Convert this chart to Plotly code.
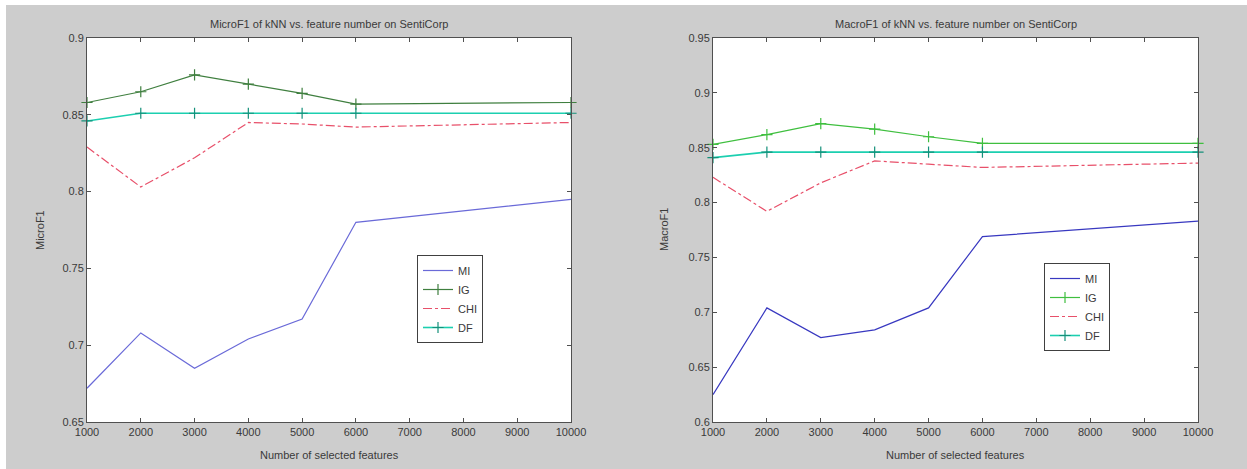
import plotly.graph_objects as go

# Feature counts at which each selection method was evaluated
features = [1000, 2000, 3000, 4000, 5000, 6000, 10000]

# MicroF1 of kNN on SentiCorp
micro_mi = [0.672, 0.708, 0.685, 0.704, 0.717, 0.780, 0.795]
micro_ig = [0.858, 0.865, 0.876, 0.870, 0.864, 0.857, 0.858]
micro_chi = [0.829, 0.803, 0.822, 0.845, 0.844, 0.842, 0.845]
micro_df = [0.846, 0.851, 0.851, 0.851, 0.851, 0.851, 0.851]

# MacroF1 of kNN on SentiCorp
macro_mi = [0.625, 0.704, 0.677, 0.684, 0.704, 0.769, 0.783]
macro_ig = [0.853, 0.862, 0.872, 0.867, 0.860, 0.854, 0.854]
macro_chi = [0.823, 0.792, 0.818, 0.838, 0.835, 0.832, 0.836]
macro_df = [0.841, 0.846, 0.846, 0.846, 0.846, 0.846, 0.846]

x_ticks = [1000, 2000, 3000, 4000, 5000, 6000, 7000, 8000, 9000, 10000]
x_tick_text = ["1000", "2000", "3000", "4000", "5000", "6000", "7000", "8000", "9000", "10000"]
micro_ticks = [0.65, 0.7, 0.75, 0.8, 0.85, 0.9]
micro_tick_text = ["0.65", "0.7", "0.75", "0.8", "0.85", "0.9"]
macro_ticks = [0.6, 0.65, 0.7, 0.75, 0.8, 0.85, 0.9, 0.95]
macro_tick_text = ["0.6", "0.65", "0.7", "0.75", "0.8", "0.85", "0.9", "0.95"]

W, H = 1247, 469
FONT = "Liberation Sans, Arial, sans-serif"
TXT = "#3a3a3a"


def px(x):
    return x / W


def py(y):
    return 1 - y / H


fig = go.Figure()

panels = [
    dict(xa="x", ya="y", leg="legend", mi=micro_mi, ig=micro_ig, chi=micro_chi, df=micro_df,
         c_mi="#6a6ad8", c_ig="#3f7f3f"),
    dict(xa="x2", ya="y2", leg="legend2", mi=macro_mi, ig=macro_ig, chi=macro_chi, df=macro_df,
         c_mi="#3838c0", c_ig="#3fbf3f"),
]

for p in panels:
    common = dict(xaxis=p["xa"], yaxis=p["ya"], legend=p["leg"], cliponaxis=False)
    fig.add_trace(go.Scatter(x=features, y=p["mi"], name="MI", mode="lines",
                             line=dict(color=p["c_mi"], width=1.2), **common))
    fig.add_trace(go.Scatter(x=features, y=p["ig"], name="IG", mode="lines+markers",
                             line=dict(color=p["c_ig"], width=1.2),
                             marker=dict(symbol="cross-thin", size=8,
                                         line=dict(width=1.2, color=p["c_ig"])), **common))
    fig.add_trace(go.Scatter(x=features, y=p["chi"], name="CHI", mode="lines",
                             line=dict(color="#e8506a", width=1.2, dash="dashdot"), **common))
    fig.add_trace(go.Scatter(x=features, y=p["df"], name="DF", mode="lines+markers",
                             line=dict(color="#1ccfb0", width=1.6),
                             marker=dict(symbol="cross-thin", size=8,
                                         line=dict(width=1.2, color="#14907a")), **common))

axis_style = dict(showgrid=False, zeroline=False, showline=True, linecolor="#505050",
                  linewidth=1, mirror="ticks", ticks="inside", ticklen=4,
                  tickcolor="#505050", automargin=False,
                  tickfont=dict(family=FONT, size=11, color=TXT))

legend_style = dict(xanchor="left", yanchor="top", bgcolor="#ffffff",
                    bordercolor="#404040", borderwidth=1,
                    font=dict(family=FONT, size=11, color=TXT),
                    tracegroupgap=0, itemwidth=30)

y_top, y_bot = 38, 422
fig.update_layout(
    width=W, height=H,
    margin=dict(l=0, r=0, t=0, b=0, pad=0, autoexpand=False),
    paper_bgcolor="#cdcdcd",
    plot_bgcolor="#ffffff",
    showlegend=True,
    xaxis=dict(domain=[px(87), px(571)], range=[1000, 10000], tickvals=x_ticks,
               ticktext=x_tick_text, anchor="y", **axis_style),
    yaxis=dict(domain=[py(y_bot), py(y_top)], range=[0.65, 0.9], tickvals=micro_ticks,
               ticktext=micro_tick_text, anchor="x", **axis_style),
    xaxis2=dict(domain=[px(713), px(1198)], range=[1000, 10000], tickvals=x_ticks,
                ticktext=x_tick_text, anchor="y2", **axis_style),
    yaxis2=dict(domain=[py(y_bot), py(y_top)], range=[0.6, 0.95], tickvals=macro_ticks,
                ticktext=macro_tick_text, anchor="x2", **axis_style),
    legend=dict(x=px(417), y=py(255), **legend_style),
    legend2=dict(x=px(1044), y=py(263), **legend_style),
    shapes=[
        # thin white border along the top and left edges of the figure
        dict(type="rect", xref="paper", yref="paper", x0=0, x1=1, y0=py(5), y1=1,
             fillcolor="#ffffff", line=dict(width=0), layer="below"),
        dict(type="rect", xref="paper", yref="paper", x0=0, x1=px(6), y0=0, y1=1,
             fillcolor="#ffffff", line=dict(width=0), layer="below"),
    ],
)

titles = [
    ("MicroF1 of kNN vs. feature number on SentiCorp", (87 + 571) / 2),
    ("MacroF1 of kNN vs. feature number on SentiCorp", (713 + 1198) / 2),
]
for text, cx in titles:
    fig.add_annotation(text=text, x=px(cx), y=py(24), xref="paper", yref="paper",
                       xanchor="center", yanchor="middle", showarrow=False,
                       font=dict(family=FONT, size=11, color=TXT))
    fig.add_annotation(text="Number of selected features", x=px(cx), y=py(455),
                       xref="paper", yref="paper", xanchor="center", yanchor="middle",
                       showarrow=False, font=dict(family=FONT, size=11, color=TXT))

for text, cx in [("MicroF1", 40), ("MacroF1", 664)]:
    fig.add_annotation(text=text, x=px(cx), y=py(230), xref="paper", yref="paper",
                       xanchor="center", yanchor="middle", showarrow=False,
                       textangle=-90, font=dict(family=FONT, size=11, color=TXT))

fig.write_html("out.html")
